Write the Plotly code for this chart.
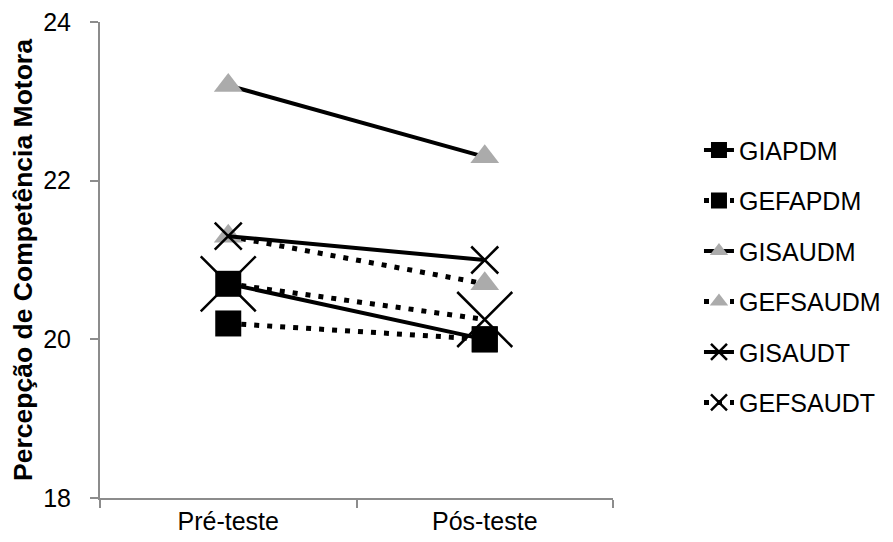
import plotly.graph_objects as go

categories = ["Pré-teste", "Pós-teste"]
series_names = ["GIAPDM", "GEFAPDM", "GISAUDM", "GEFSAUDM", "GISAUDT", "GEFSAUDT"]
GIAPDM = [20.7, 20.0]
GEFAPDM = [20.2, 20.0]
GISAUDM = [23.2, 22.3]
GEFSAUDM = [21.3, 20.7]
GISAUDT = [21.3, 21.0]
GEFSAUDT = [20.7, 20.25]
y_ticks = [18, 20, 22, 24]

values = [GIAPDM, GEFAPDM, GISAUDM, GEFSAUDM, GISAUDT, GEFSAUDT]
dashes = ["solid", "5px,8px", "solid", "5px,8px", "solid", "5px,8px"]
symbols = ["square", "square", "triangle-up", "triangle-up", "x-thin", "x-thin"]
msizes = [26, 26, 25, 25, 27, 55]
mcolors = ["black", "black", "#ababab", "#ababab", "black", "black"]

fig = go.Figure()
for i, (name, vals) in enumerate(zip(series_names, values)):
    fig.add_trace(go.Scatter(
        x=categories, y=vals, name=name, mode="lines+markers",
        line=dict(color="black", width=4 if dashes[i] == "solid" else 5, dash=dashes[i]),
        marker=dict(symbol=symbols[i], size=msizes[i], color=mcolors[i],
                    line=dict(color="black", width=2.5 if "x" in symbols[i] else 0)),
        legendgroup=name,
    ))

fig.update_layout(
    width=893, height=542,
    margin=dict(l=92, r=288, t=14, b=52),
    paper_bgcolor="white", plot_bgcolor="white",
    font=dict(family="Liberation Sans, Arial, sans-serif", size=25, color="black"),
    showlegend=True,
    legend=dict(x=1.1676, xanchor="left", y=0.466, yanchor="middle",
                font=dict(size=25), tracegroupgap=15, itemsizing="trace"),
)
fig.update_xaxes(type="category", range=[-0.5, 1.5], showline=True, linecolor="#8c8c8c",
                 linewidth=2, ticks="outside", tickson="boundaries", ticklen=8,
                 tickcolor="#8c8c8c", tickwidth=2, showgrid=False, zeroline=False,
                 tickfont=dict(size=25), automargin=False, ticklabeloverflow="allow")
fig.update_yaxes(range=[18, 24], tickvals=y_ticks, showline=True, linecolor="#8c8c8c",
                 linewidth=2, ticks="outside", ticklen=8, tickcolor="#8c8c8c", tickwidth=2,
                 showgrid=False, zeroline=False, tickfont=dict(size=25), ticklabelstandoff=14,
                 automargin=False, ticklabeloverflow="allow",
                 title=dict(text="<b>Percepção de Competência Motora</b>", font=dict(size=26.5), standoff=10))

fig.write_html("out.html")
